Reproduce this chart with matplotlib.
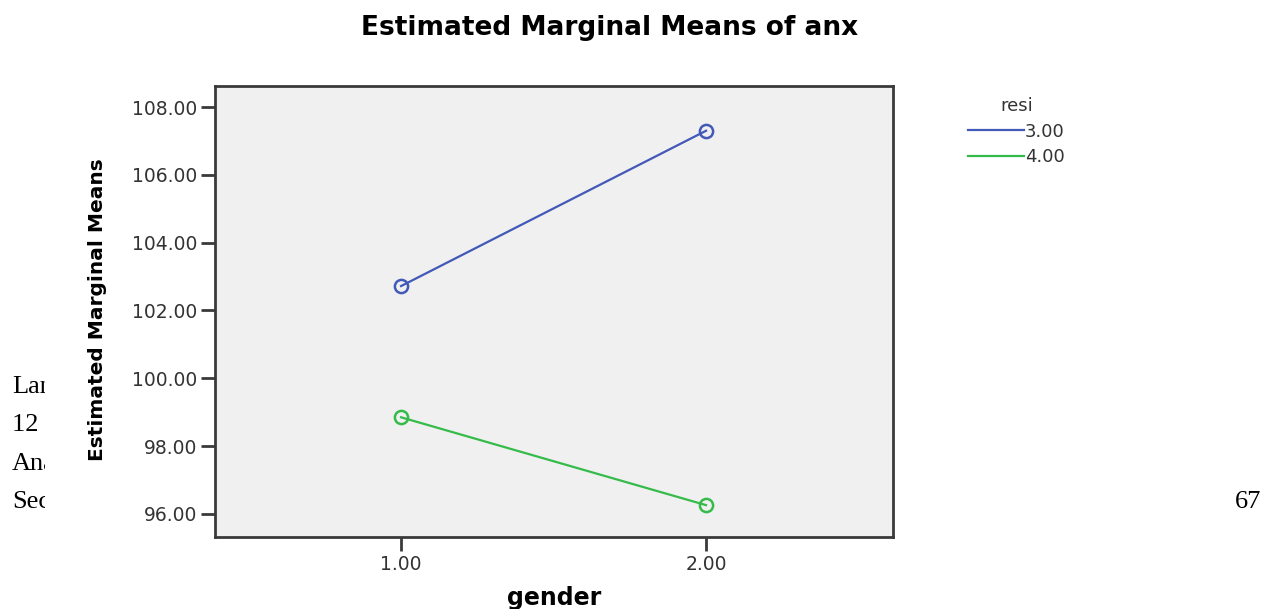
import matplotlib.pyplot as plt
from matplotlib.lines import Line2D
from matplotlib.transforms import Bbox

# estimated marginal means of anx by gender, one line per resi level
gender = [1.0, 2.0]
resi_levels = ['3.00', '4.00']
means_resi3 = [102.72, 107.30]
means_resi4 = [98.85, 96.26]
y_ticks = [96, 98, 100, 102, 104, 106, 108]

line_colors = ['#4259b8', '#35bb4a']
axis_col = '#3a3a3a'
label_col = '#333333'

W, H = 1267, 609
fig = plt.figure(figsize=(W / 100, H / 100), dpi=100)
fig.patch.set_facecolor('white')

# plot box position in pixels: left, top, right, bottom
px_l, px_t, px_r, px_b = 215, 86, 893, 537
ax = fig.add_axes([px_l / W, 1 - px_b / H, (px_r - px_l) / W, (px_b - px_t) / H])
ax.set_facecolor('#f0f0f0')

for vals, col in zip([means_resi3, means_resi4], line_colors):
    ax.plot(gender, vals, color=col, lw=1.6,
            marker='o', ms=9.5, mfc='none', mec=col, mew=1.8)

ax.set_xlim(0.39, 2.613)
ax.set_ylim(95.32, 108.62)
ax.set_xticks(gender)
ax.set_xticklabels(['%.2f' % g for g in gender])
ax.set_yticks(y_ticks)
ax.set_yticklabels(['%.2f' % v for v in y_ticks])

for s in ax.spines.values():
    s.set_color(axis_col)
    s.set_linewidth(2)
ax.tick_params(direction='out', length=10, width=2, color=axis_col,
               labelsize=13.5, labelcolor=label_col, pad=3)
for t in ax.get_xticklabels() + ax.get_yticklabels():
    t.set_family('DejaVu Sans')

ax.set_xlabel('gender', family='DejaVu Sans', fontweight='bold', fontsize=17)
ax.xaxis.set_label_coords(0.5, (px_b - 586) / (px_b - px_t))
ax.set_ylabel('Estimated Marginal Means', family='DejaVu Sans',
              fontweight='bold', fontsize=14.5)
ax.yaxis.set_label_coords((107 - px_l) / (px_r - px_l),
                          (px_b - 310) / (px_b - px_t))

fig.text(610 / W, 1 - 28 / H, 'Estimated Marginal Means of anx',
         family='DejaVu Sans', fontweight='bold', fontsize=19,
         ha='center', va='center')

# legend shows plain lines only
handles = [Line2D([], [], color=c, lw=1.6) for c in line_colors]
leg = fig.legend(handles, resi_levels, title='resi', loc='upper left',
                 bbox_to_anchor=(959 / W, 1 - 88 / H), frameon=False,
                 borderpad=0, handlelength=3.1, handletextpad=0.05,
                 labelspacing=0.42, prop={'family': 'DejaVu Sans', 'size': 13})
leg.get_title().set_fontsize(13)
leg.get_title().set_family('DejaVu Sans')
leg.get_title().set_color(label_col)
for t in leg.get_texts():
    t.set_color(label_col)

# page text from the surrounding document, cut off by the chart
clip = Bbox.from_extents(0, 0, 45, H)
for txt, yp in zip(['Lan', '12 ', 'Ana', 'Sec'], [387, 425, 464, 502]):
    t = fig.text(12 / W, 1 - yp / H, txt, family='Liberation Serif',
                 fontsize=19, ha='left', va='center')
    t.set_clip_box(clip)
    t.set_clip_on(True)
fig.text(1235 / W, 1 - 502 / H, '67', family='Liberation Serif',
         fontsize=19, ha='left', va='center')

fig.savefig('out.png', dpi=100)
